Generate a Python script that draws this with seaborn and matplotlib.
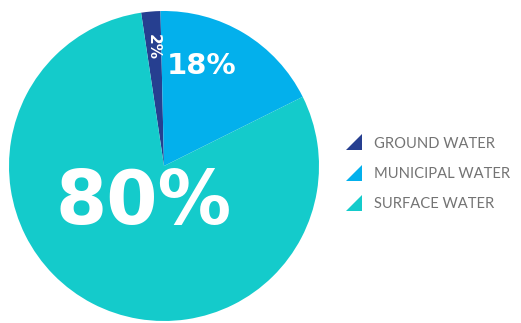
import matplotlib
matplotlib.use("Agg")
import matplotlib.pyplot as plt
import seaborn as sns
from matplotlib.lines import Line2D
from matplotlib.path import Path

sns.set_theme(style="white")
plt.rcParams['font.family'] = ['Lato', 'DejaVu Sans']

categories = ["GROUND WATER", "MUNICIPAL WATER", "SURFACE WATER"]
values = [2, 18, 80]
labels = ["2%", "18%", "80%"]
colors = ["#263f90", "#03b0ec", "#14cbcb"]

fig = plt.figure(figsize=(5.21, 3.23), dpi=100)
ax = fig.add_axes([9/521, 2/323, 310/521, 310/323])
ax.pie(values, colors=colors, startangle=98.5,
       counterclock=False, wedgeprops=dict(linewidth=0))
ax.set_xlim(-1, 1)
ax.set_ylim(-1, 1)
ax.set_aspect('equal')
ax.axis('off')

bold = dict(color="white", fontweight="bold", family="DejaVu Sans",
            ha="center", va="center")
ax.text(-0.07, 0.768, labels[0], fontsize=11, rotation=-90, **bold)
ax.text(0.245, 0.645, labels[1], fontsize=21, **bold)
ax.text(-0.129, -0.245, labels[2], fontsize=53, **bold)

tri = Path([(-1, -1), (1, -1), (1, 1), (-1, -1)],
           [Path.MOVETO, Path.LINETO, Path.LINETO, Path.CLOSEPOLY])
handles = [Line2D([], [], linestyle="none", marker=tri, markersize=11.5,
                  markerfacecolor=c, markeredgewidth=0) for c in colors]
leg = fig.legend(handles, categories, loc="center left", bbox_to_anchor=(347/521, 1 - 174/323),
                 frameon=False, handlelength=0.9, handletextpad=0.95, labelspacing=1.12,
                 fontsize=10.6, labelcolor="#737373", borderpad=0, borderaxespad=0)

fig.savefig("out.png", dpi=100)
